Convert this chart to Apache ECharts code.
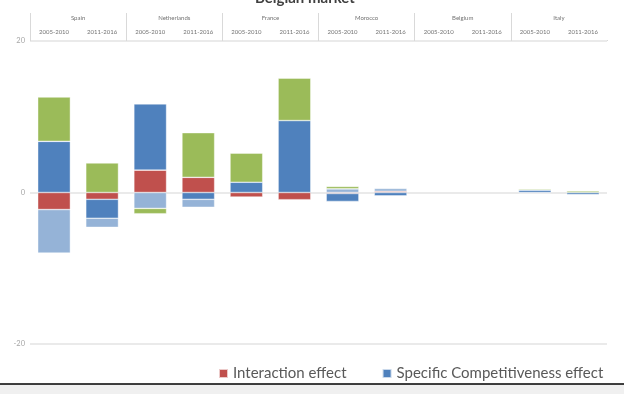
<!DOCTYPE html>
<html>
<head>
<meta charset="utf-8">
<script src="https://cdn.jsdelivr.net/npm/echarts@6/dist/echarts.min.js"></script>
<style>
  html, body { margin: 0; padding: 0; background: #fff; }
  #chart { width: 624px; height: 394px; }
</style>
</head>
<body>
<div id="chart"></div>
<script>
// Periods shown for each partner country
const periods = ['2005-2010', '2011-2016', '2005-2010', '2011-2016', '2005-2010', '2011-2016',
                 '2005-2010', '2011-2016', '2005-2010', '2011-2016', '2005-2010', '2011-2016'];
const countries = ['Spain', 'Netherlands', 'France', 'Morocco', 'Belgium', 'Italy'];
const yTicks = [-20, 0, 20];

// Decomposition of market share change (percentage points)
const interactionEffect    = [-2.25, -0.9, 2.95, 2.0, -0.6, -0.95, -0.13, 0.17, 0, 0, -0.06, 0];
const specificCompetEffect = [6.75, -2.5, 8.75, -0.9, 1.35, 9.5, -1.05, -0.45, 0, 0, 0.32, -0.27];
const structureEffect      = [-5.75, -1.2, -2.1, -1.05, 0, 0, 0.48, 0.36, 0, 0, 0, 0];
const globalCompetEffect   = [5.85, 3.9, -0.7, 5.9, 3.85, 5.6, 0.32, 0, 0, 0, 0.15, 0.2];

const seriesDefs = [
  { name: 'Interaction effect', data: interactionEffect, color: '#C0504D' },
  { name: 'Specific Competitiveness effect', data: specificCompetEffect, color: '#4F81BD' },
  { name: 'Structure effect', data: structureEffect, color: '#95B3D7' },
  { name: 'Global competitiveness effect', data: globalCompetEffect, color: '#9BBB59' }
];

const FONT = 'Lato, "Open Sans", sans-serif';
const chart = echarts.init(document.getElementById('chart'), null, { renderer: 'canvas' });

chart.setOption({
  animation: false,
  title: {
    text: 'Belgian market',
    left: 250,
    top: -14,
    textStyle: { fontFamily: FONT, fontSize: 15, fontWeight: 'bold', color: '#404040' }
  },
  legend: {
    data: ['Interaction effect', 'Specific Competitiveness effect'],
    left: 213,
    top: 361,
    itemWidth: 9,
    itemHeight: 9,
    itemGap: 35,
    icon: 'rect',
    textStyle: { fontFamily: FONT, fontSize: 15, color: '#595959' }
  },
  grid: { left: 30, right: 17, top: 41, bottom: 50, containLabel: false },
  xAxis: [
    {
      type: 'category',
      position: 'top',
      data: periods,
      axisLine: { show: false },
      axisTick: { show: false },
      axisLabel: { interval: 0, margin: 6, fontFamily: FONT, fontSize: 6, color: '#737373' }
    },
    {
      type: 'category',
      position: 'top',
      data: countries,
      axisLine: { show: false },
      axisTick: { show: true, interval: 0, length: 28, lineStyle: { color: '#d9d9d9', width: 1 } },
      axisLabel: { interval: 0, margin: 20, fontFamily: FONT, fontSize: 6, color: '#737373' }
    }
  ],
  yAxis: {
    type: 'value',
    min: yTicks[0],
    max: yTicks[yTicks.length - 1],
    interval: 20,
    axisLine: { show: false },
    axisTick: { show: false },
    axisLabel: { margin: 5, fontFamily: FONT, fontSize: 7.5, color: '#a6a6a6' },
    splitLine: { lineStyle: { color: '#e3e3e3', width: 1.5 } }
  },
  series: seriesDefs.map(s => ({
    name: s.name,
    type: 'bar',
    stack: 'effects',
    xAxisIndex: 0,
    barCategoryGap: '32%',
    // empty segments are left undrawn
    data: s.data.map(v => (v === 0 ? null : v)),
    itemStyle: { color: s.color, borderColor: 'rgba(255,255,255,0.7)', borderWidth: 0.6 }
  })),
  graphic: [
    // the header has no closing separator on its right edge
    { type: 'rect', z: 100, shape: { x: 604, y: 8, width: 8, height: 32 }, style: { fill: '#fff' } },
    { type: 'rect', z: 100, shape: { x: 0, y: 384, width: 624, height: 10 }, style: { fill: '#f0f0f0' } },
    { type: 'line', z: 100, shape: { x1: 0, y1: 384, x2: 624, y2: 384 }, style: { stroke: '#000', lineWidth: 1.5 } }
  ]
});
</script>
</body>
</html>
